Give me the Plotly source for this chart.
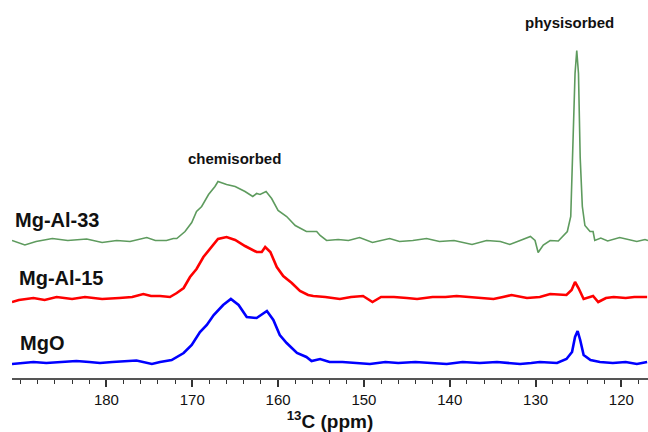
import plotly.graph_objects as go

# ---- data (chemical shift in ppm, intensity in arbitrary units relative to each baseline) ----
mgo_ppm = [191.0, 189.8, 188.5, 187.0, 185.5, 183.5, 182.0, 180.75, 179.3, 178.0, 176.5, 174.7,
           173.75, 172.4, 171.0, 170.06, 169.1, 168.3, 167.5, 166.4, 165.5, 164.6, 163.65, 162.5,
           161.3, 160.55, 159.8, 159.0, 157.8, 156.7, 156.1, 155.1, 154.0, 152.5, 151.0, 149.3,
           147.5, 146.0, 144.0, 142.0, 140.35, 138.5, 136.5, 134.5, 133.0, 131.8, 130.5, 129.5,
           127.5, 126.4, 125.75, 125.4, 125.1, 124.8, 124.4, 123.6, 122.5, 121.0, 119.5, 118.2, 117.0]
mgo_int = [-2, -1, 0, -1, 0, 1, 0, -1, 0, 1, 1.5, -2,
           0, 2, 9, 17, 30, 37, 47, 57, 63, 57, 45, 44,
           51, 42, 27, 19, 9, 5, 1, 3, 0, 0, -1, -2,
           0, -1, 0, -1, -2, 0, -1, 0, -1, -2, -1, 0,
           -1, 3, 10, 25, 31, 22, 7, 2, 0, -1, 0, -2, 0]

al15_ppm = [191.0, 190.2, 188.5, 187.2, 185.8, 184.0, 182.5, 180.5, 178.5, 177.0, 175.7, 174.8,
            173.75, 172.6, 171.8, 171.0, 170.26, 169.5, 168.7, 167.9, 167.0, 166.0, 165.0, 163.85,
            162.5, 161.9, 161.5, 160.9, 160.15, 159.4, 158.4, 157.45, 156.5, 155.9, 154.5, 152.8,
            151.5, 150.1, 149.0, 148.0, 146.5, 145.0, 143.8, 142.0, 140.5, 139.2, 137.5, 136.0,
            134.9, 133.8, 132.8, 131.0, 129.5, 128.3, 127.2, 126.4, 125.8, 125.4, 125.0, 124.4,
            123.3, 122.7, 121.8, 120.9, 119.5, 118.5, 117.0]
al15_int = [-5, -3, -1, -3, 0, -2, 0, -2, -1, 0, 3, 1,
            1, 0, 4, 9, 20, 28, 40, 49, 58, 60, 57, 51,
            45, 45, 50, 45, 30, 21, 14, 6, 2, 1, 0, -2,
            0, 1, -5, 0, 0, -1, -2, 0, 0, 1, 0, -1,
            -2, 0, 2, -1, 0, 3, 2, 2, 7, 15, 9, -2,
            1, -5, -1, 0, -1, 0, 0]

al33_ppm = [191.0, 189.5, 188.2, 186.3, 184.5, 182.3, 180.5, 178.8, 177.25, 175.3, 174.3, 173.0,
            172.2, 171.8, 170.84, 170.06, 169.5, 168.9, 168.1, 167.35, 167.0, 166.0, 165.0, 163.85,
            162.95, 162.5, 162.1, 161.4, 160.75, 160.0, 159.0, 158.0, 156.7, 155.5, 155.1, 154.35,
            153.0, 151.8, 150.5, 149.0, 147.0, 145.85, 144.3, 142.7, 141.2, 139.5, 137.4, 135.7,
            134.1, 133.0, 131.8, 130.6, 130.06, 129.7, 129.1, 128.3, 127.35, 126.8, 126.3, 125.9,
            125.6, 125.4, 125.2, 125.0, 124.8, 124.55, 124.25, 123.65, 123.3, 123.1, 122.4, 121.6,
            120.2, 119.0, 118.2, 117.25, 116.9]
al33_int = [0, -4.5, -1, 2, 0, 1.5, -2, 0, -1, 3, 0, 0,
            2, 2, 9, 18, 29, 34, 46, 54, 59, 56, 54, 49,
            44, 47, 46, 49, 42, 30, 24, 15, 9, 9, 5, 0,
            1, 0, 3, -2, 2, -1, 0, 2, -1, 0, -4, 0,
            -1, -4, 0, 4, 0, -12, -4.5, 0, -0.5, 4, 9, 24,
            100, 167, 190, 167, 83, 34, 15, 9, 9, 0, 2.5, -0.5,
            3, 1, -1, 1, 0]

series_names = ["MgO", "Mg-Al-15", "Mg-Al-33"]
tick_vals = [120, 130, 140, 150, 160, 170, 180]
tick_text = ["120", "130", "140", "150", "160", "170", "180"]
minor_vals = list(range(118, 192, 2))

# ---- layout / style ----
offsets = [0, 65, 121.5]
colors = ["#0000ff", "#ff0000", "#5e9b5e"]
widths = [2.6, 2.6, 1.6]
FONT = "Arial, 'Liberation Sans', sans-serif"

fig = go.Figure()
for ppm, inten, off, col, w, name in zip(
        [mgo_ppm, al15_ppm, al33_ppm], [mgo_int, al15_int, al33_int],
        offsets, colors, widths, series_names):
    fig.add_trace(go.Scatter(x=ppm, y=[v + off for v in inten], mode="lines",
                             line=dict(color=col, width=w, shape="linear"),
                             name=name, showlegend=False, hoverinfo="skip"))

label_y = [19, 84, 142]
label_x = [18, 17, 13]
for nm, ly, lx in zip(series_names, label_y, label_x):
    fig.add_annotation(text="<b>" + nm + "</b>", x=(lx - 12) / 636, xref="paper", y=ly, yref="y",
                       xanchor="left", yanchor="middle", showarrow=False,
                       font=dict(family=FONT, size=20, color="#111111"))

fig.add_annotation(text="<b>chemisorbed</b>", x=165.1, y=204, xref="x", yref="y",
                   showarrow=False, font=dict(family=FONT, size=15, color="#111111"))
fig.add_annotation(text="<b>physisorbed</b>", x=126.1, y=340, xref="x", yref="y",
                   showarrow=False, font=dict(family=FONT, size=15, color="#111111"))

fig.update_layout(
    width=648, height=432,
    margin=dict(l=12, r=0, t=0, b=54, autoexpand=False),
    plot_bgcolor="white", paper_bgcolor="white",
    font=dict(family=FONT, color="#111111"),
    xaxis=dict(range=[191, 116.9], tickmode="array", tickvals=tick_vals, ticktext=tick_text,
               ticks="outside", ticklen=7, tickwidth=1.5, tickcolor="#333333",
               showline=True, linecolor="#555555", linewidth=2, showgrid=False, zeroline=False,
               tickfont=dict(family=FONT, size=15, color="#111111"),
               minor=dict(tickmode="array", tickvals=minor_vals, ticks="outside", ticklen=4,
                          tickwidth=1.2, tickcolor="#333333", showgrid=False),
               title=dict(text="<b><sup>13</sup>C (ppm)</b>", standoff=6,
                          font=dict(family=FONT, size=19, color="#111111")),
               automargin=False),
    yaxis=dict(range=[-16, 362], visible=False, showgrid=False, zeroline=False),
)

fig.write_html("out.html")
